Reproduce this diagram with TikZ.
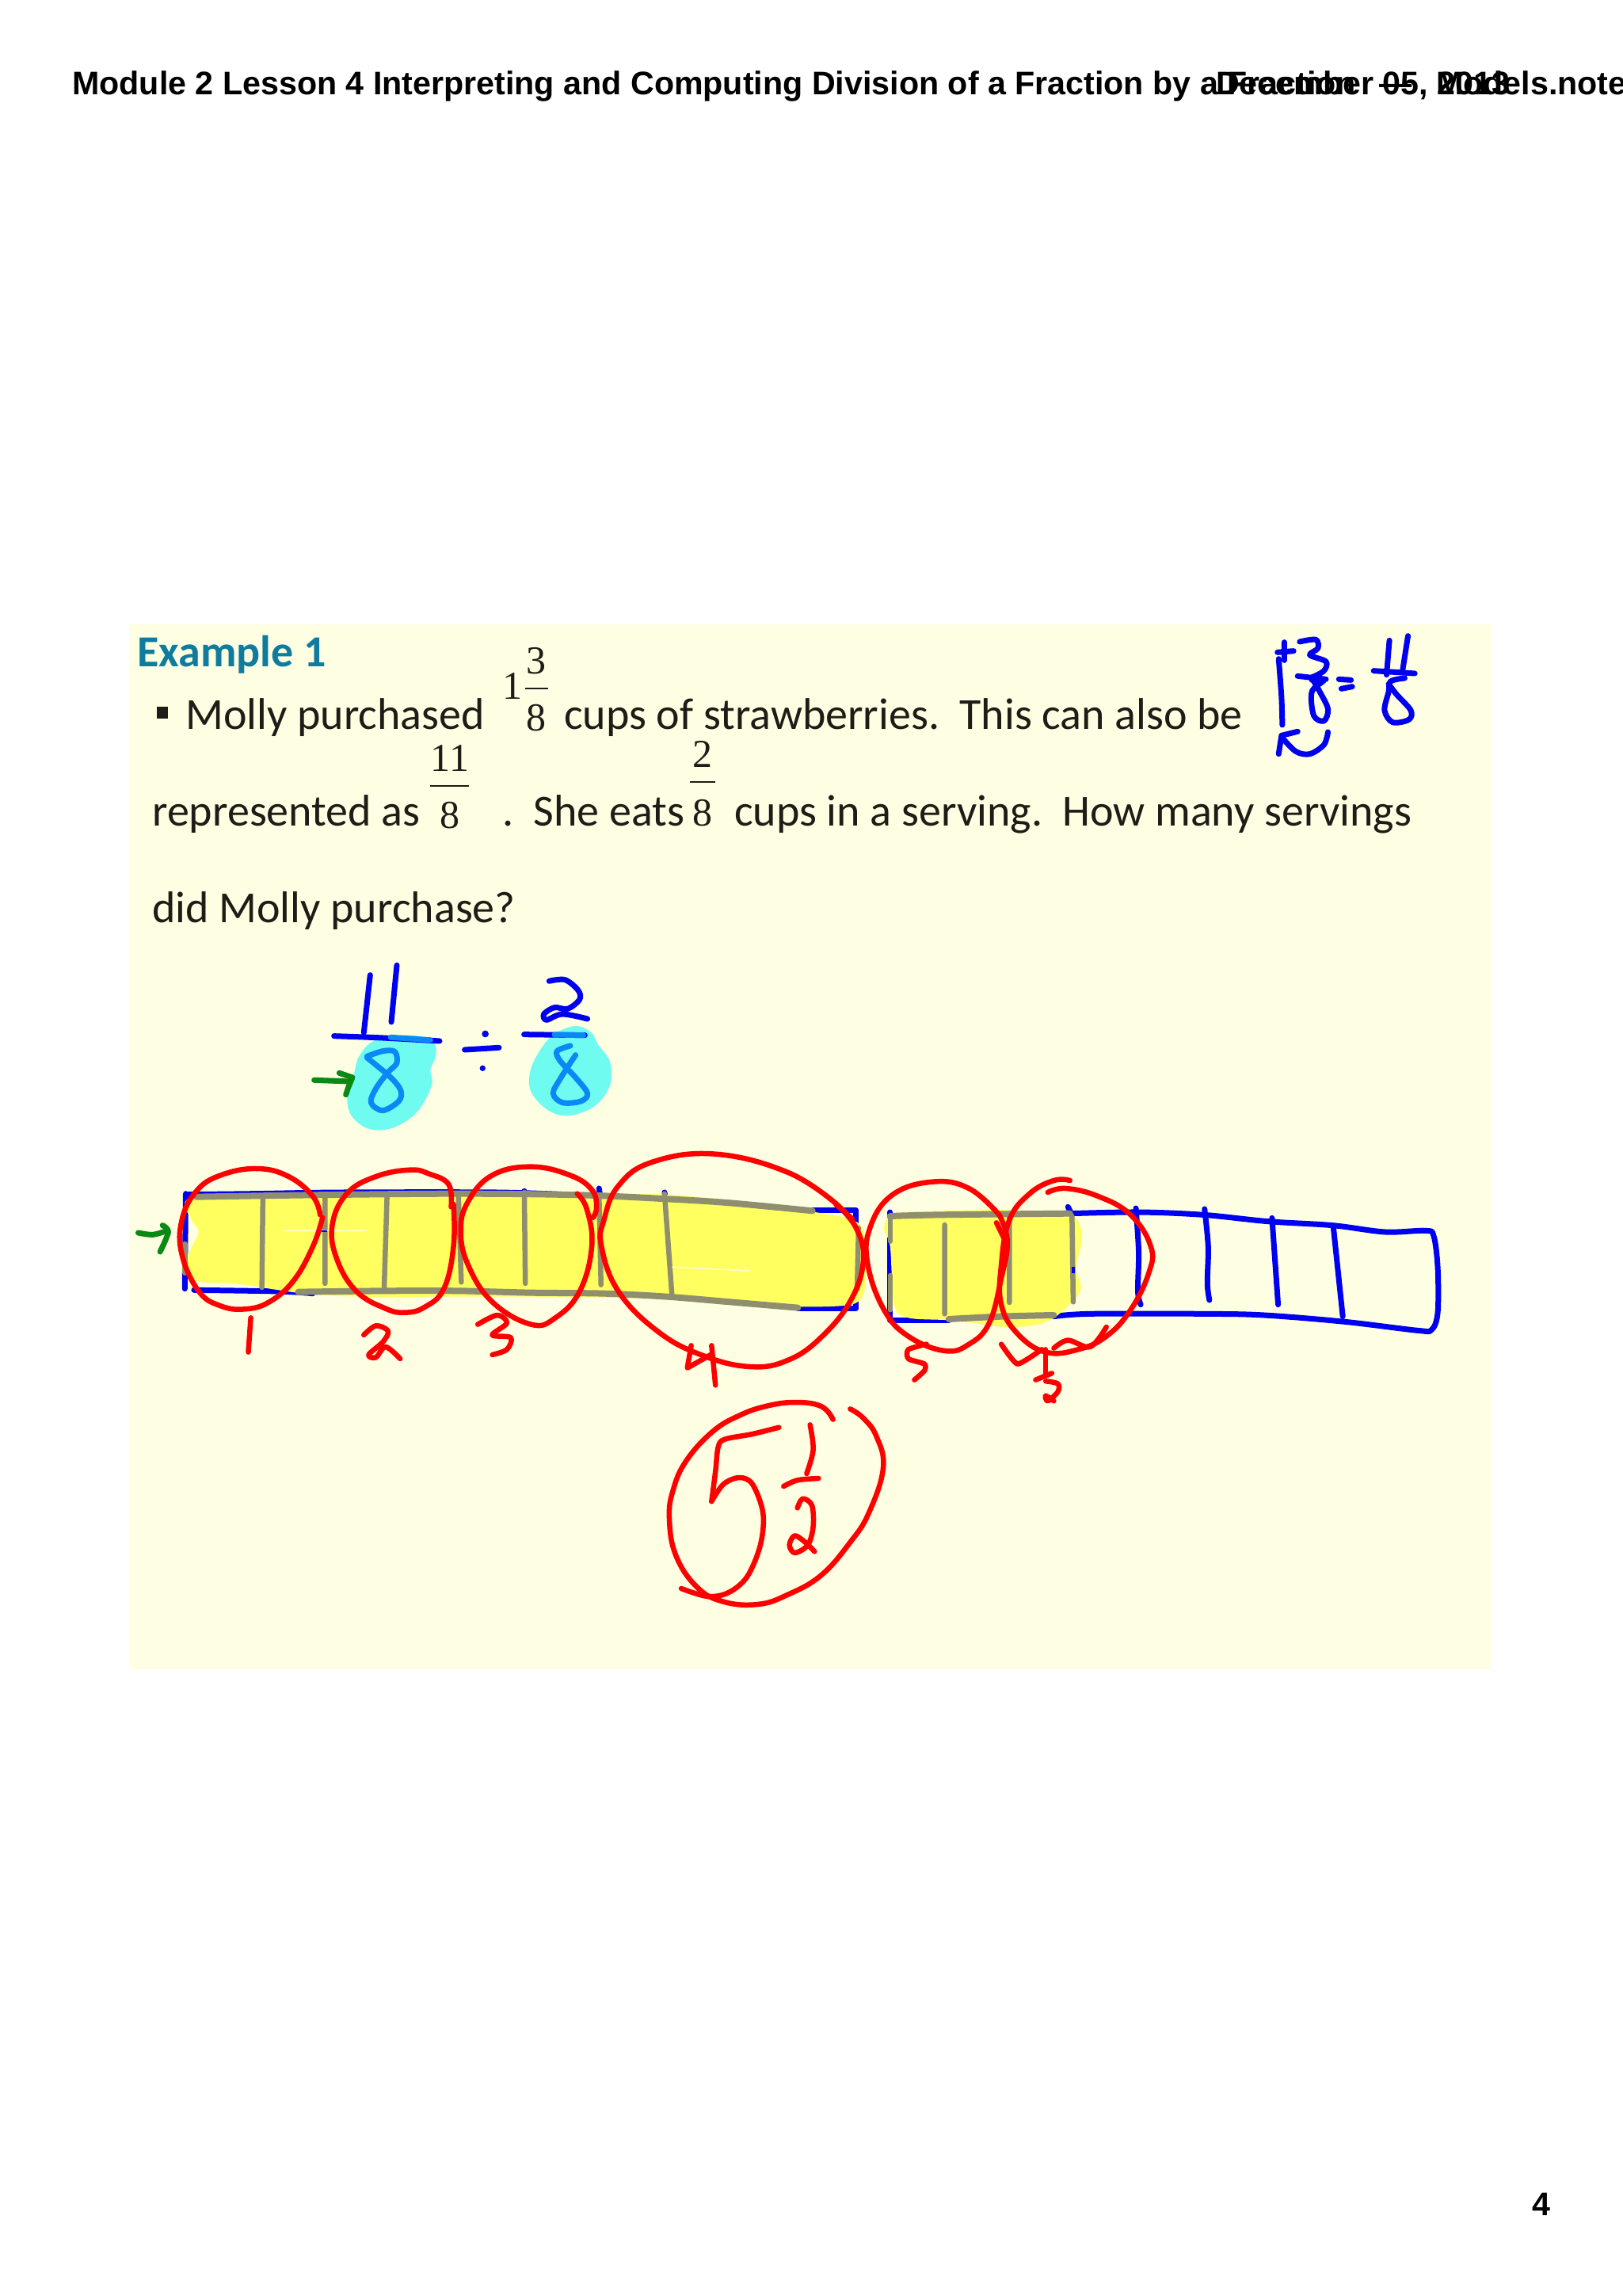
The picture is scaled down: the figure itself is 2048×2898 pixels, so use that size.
\documentclass[tikz,border=0pt]{standalone}
\usepackage{fontspec}
\setmainfont{Carlito}
\newfontfamily\titlefont{Liberation Sans}
\newfontfamily\mathsfont{Liberation Serif}
\definecolor{panel}{HTML}{FEFEE3}
\definecolor{heading}{HTML}{0F7C9E}
\definecolor{bodyink}{HTML}{1E1C16}
\definecolor{penblue}{HTML}{0000F0}
\definecolor{penred}{HTML}{FF0000}
\definecolor{pengreen}{HTML}{0A8A12}
\definecolor{hlyellow}{HTML}{FFFF60}
\definecolor{hlgray}{HTML}{8F8F70}
\definecolor{hlcyan}{HTML}{70FBF0}
\definecolor{hlblue}{HTML}{0A88F6}
\tikzset{
  titletext/.style={anchor=base west,inner sep=0pt,font=\titlefont\bfseries\fontsize{41.2}{41.2}\selectfont,text=black},
  bodytext/.style={anchor=base west,inner sep=0pt,font=\fontsize{56}{56}\selectfont,text=bodyink},
  numtext/.style={anchor=base,inner sep=0pt,font=\mathsfont\fontsize{50}{50}\selectfont,text=bodyink},
  ink/.style={line cap=round,line join=round,line width=#1},
  ink/.default=6pt,
  blueink/.style={ink=7pt,draw=penblue},
  grayink/.style={ink=6.5pt,draw=hlgray},
  grayband/.style={ink=8pt,draw=hlgray},
  redink/.style={ink=6.5pt,draw=penred},
  greenink/.style={ink=7pt,draw=pengreen},
  cyanink/.style={ink=7pt,draw=hlblue},
  smoothpath/.style={smooth,tension=.55},
  roundpath/.style={smooth,tension=.7},
  zthree/.style={shift={(1100,780)},xscale=.5102,yscale=.3333},
  zfour/.style={shift={(350,1190)},xscale=.3333,yscale=.3333},
  zfive/.style={shift={(150,1440)},xscale=.6124,yscale=.3333},
  zsix/.style={shift={(1060,1440)},xscale=.5102,yscale=.3333},
  zseven/.style={shift={(800,1740)},xscale=.3333,yscale=.3333},
}
\begin{document}
\begin{tikzpicture}[x=1pt,y=-1pt]
\useasboundingbox (0,0) rectangle (2048,2898);
\fill[white] (0,0) rectangle (2048,2898);
\fill[panel] (163,788) rectangle (1883,2107);

\node[titletext] (title) at (91,120) {Module 2 Lesson 4 Interpreting and Computing Division of a Fraction by a Fraction\hskip 30pt—\hskip 30pt Models.notebook};
\node[titletext] (date) at (1535,120) {December 05, 2013};
\node[titletext] (page) at (1934,2796) {4};

\node[anchor=base west,inner sep=0pt,font=\bfseries\fontsize{56}{56}\selectfont,text=heading] (example) at (173,841) {Example 1};
\fill[bodyink] (198,892) rectangle (212,907);
\node[bodytext] (l1a) at (234,920) {Molly purchased};
\node[numtext] (n1) at (647,882) {1};
\node[numtext] (n3) at (677,850) {3};
\draw[bodyink,line width=2pt] (663,869) -- (692,869);
\node[numtext] (n8a) at (677,922) {8};
\node[bodytext] (l1b) at (712,920) {cups of strawberries.\ \ This can also be};
\node[bodytext] (l2a) at (192,1042) {represented as};
\node[numtext] (n11) at (568,973) {11};
\draw[bodyink,line width=2pt] (543,992) -- (592,992);
\node[numtext] (n8b) at (568,1045) {8};
\node[bodytext] (l2b) at (634,1042) {.\ \ She eats};
\node[numtext] (n2) at (887,968) {2};
\draw[bodyink,line width=2pt] (871,987) -- (903,987);
\node[numtext] (n8c) at (887,1042) {8};
\node[bodytext] (l2c) at (927,1042) {cups in a serving.\ \ How many servings};
\node[bodytext] (l3) at (192,1164) {did Molly purchase?};

% top-right working
\begin{scope}[zthree]
\draw[blueink] plot[smoothpath] coordinates {(1008,155)(1015,300)(1017,405)};
\draw[blueink] (1005,130) -- (1045,125) (1022,92) -- (1022,160);
\draw[blueink] plot[smoothpath] coordinates {(1060,90)(1100,82)(1105,115)(1085,140)(1125,165)(1120,200)(1090,225)};
\draw[blueink] (1055,220) -- (1125,232);
\draw[blueink] plot[smoothpath] coordinates {(1090,235)(1120,235)(1090,280)(1095,370)(1120,390)(1130,345)(1110,280)(1095,240)};
\draw[blueink] (1157,232) -- (1187,235) (1163,268) -- (1190,260);
\draw[blueink] (1282,85) -- (1275,215) (1328,68) -- (1315,195) (1243,200) -- (1345,210);
\draw[blueink] plot[smoothpath] coordinates {(1320,228)(1285,240)(1280,280)(1270,350)(1290,395)(1330,385)(1335,350)(1300,290)(1280,250)};
\draw[blueink] plot[smoothpath] coordinates {(1130,432)(1120,480)(1085,515)(1050,505)(1015,450)};
\draw[blueink] (1055,430) -- (1015,445) -- (1008,515);
\end{scope}

% division sum
\begin{scope}[zfour]
\fill[hlcyan] plot[smooth cycle,tension=.6] coordinates {(370,370)(500,350)(590,375)(600,430)(580,480)(585,540)(530,640)(440,700)(350,705)(285,660)(265,590)(290,500)(310,430)};
\fill[hlcyan] plot[smooth cycle,tension=.6] coordinates {(1050,345)(1130,315)(1190,340)(1215,385)(1260,450)(1260,540)(1200,620)(1100,655)(1020,630)(960,560)(960,480)(1000,400)};
\draw[blueink] (352,122) -- (328,340) (453,85) -- (432,300);
\draw[blueink] plot[smoothpath] coordinates {(215,353)(400,360)(615,372)};
\draw[blueink] (710,405) -- (840,397);
\draw[blueink] (935,347) -- (1165,350);
\fill[penblue] (788,345) circle[radius=13] (778,475) circle[radius=11];
\draw[blueink] plot[smoothpath] coordinates {(1030,145)(1090,140)(1140,180)(1145,215)(1100,250)(1050,245)(1010,270)(1020,292)(1080,270)(1175,288)};
\draw[hlblue,line width=7pt,line cap=round] (430,358) -- (580,368) (1050,348) -- (1160,350);
\draw[cyanink] plot[smoothpath] coordinates {(340,430)(400,410)(445,412)(453,455)(420,490)(375,550)(355,605)(400,635)(460,600)(468,560)(430,510)(340,435)};
\draw[cyanink] plot[smoothpath] coordinates {(1110,390)(1060,410)(1070,445)(1130,510)(1175,570)(1150,600)(1080,605)(1045,570)(1075,510)(1130,425)};
\draw[greenink] (140,520) -- (275,525);
\draw[greenink] (235,493) -- (285,510) -- (270,545) -- (260,575);
\end{scope}

% first bar
\begin{scope}[zfive]
\draw[blueink] (138,200) -- (136,560);
\draw[blueink] plot[smoothpath] coordinates {(140,203)(280,200)(460,195)(780,195)(940,205)};
\draw[blueink] plot[smoothpath] coordinates {(155,565)(330,570)(400,578)};
\draw[blueink] (1400,635) -- (1520,635) -- (1520,262) -- (1430,262);
\draw[blueink] (990,180) -- (992,205) (836,190) -- (836,200) (1125,195) -- (1126,205);
\fill[hlyellow] plot[smooth cycle,tension=.45] coordinates {(150,215)(400,207)(700,197)(1000,200)(1150,205)(1300,235)(1430,268)(1530,320)(1540,520)(1510,620)(1300,625)(1130,600)(850,590)(500,590)(380,578)(240,540)(160,530)(140,450)(165,345)(150,300)};
\draw[grayink] (136,390) -- (136,500);
\draw[grayband] plot[smoothpath] coordinates {(160,212)(400,205)(700,200)(950,205)(1130,220)(1260,235)(1430,265)};
\draw[grayband] plot[smoothpath] coordinates {(370,572)(550,568)(700,568)(850,575)(1000,578)(1130,590)(1260,610)(1400,632)};
\draw[grayink] (297,210) -- (295,555) (425,205) -- (425,540) (553,205) -- (547,560) (700,205) -- (706,535) (836,195) -- (838,540) (990,205) -- (994,545) (1125,200) -- (1140,578) (1525,330) -- (1522,560);
\draw[white,line width=1.5pt,opacity=.8] (340,340) -- (510,340) (1140,478) -- (1300,492);
\draw[penblue,line width=2pt] (418,343) -- (430,343);
% circles
\draw[redink] plot[roundpath] coordinates {(415,280)(400,210)(350,135)(285,105)(210,130)(160,190)(130,300)(130,430)(165,570)(210,625)(260,637)(310,610)(360,530)(400,400)(420,290)};
\draw[redink] plot[roundpath] coordinates {(685,250)(680,165)(640,125)(600,110)(530,135)(470,200)(440,320)(450,450)(490,570)(550,635)(590,650)(630,630)(670,560)(690,400)(690,240)};
\draw[redink] plot[roundpath] coordinates {(978,290)(985,250)(975,185)(930,130)(850,98)(770,130)(720,230)(705,340)(720,470)(770,610)(850,695)(900,670)(950,570)(975,400)(965,260)(945,200)};
\draw[redink] plot[roundpath] coordinates {(1480,240)(1380,120)(1230,50)(1100,80)(1030,170)(1000,300)(995,400)(1030,570)(1110,720)(1200,810)(1300,855)(1380,830)(1450,740)(1510,600)(1535,450)(1520,330)(1480,240)};
\draw[redink] (1478,240) -- (1512,295);
\draw[redink] (272,670) -- (267,800);
\draw[redink] plot[smoothpath] coordinates {(505,735)(530,700)(555,720)(545,760)(515,810)(530,820)(550,780)(580,825)};
\draw[redink] plot[smoothpath] coordinates {(740,695)(780,660)(800,690)(770,735)(808,745)(800,790)(770,810)};
\draw[redink] (1180,775) -- (1172,860) -- (1220,810) (1222,775) -- (1230,925);
\draw[greenink] plot[smoothpath] coordinates {(40,348)(70,355)(100,340)};
\draw[greenink] plot[smoothpath] coordinates {(90,320)(102,345)(85,420)};
\end{scope}

% second bar
\begin{scope}[zsix]
\draw[blueink] (125,270) -- (125,680) -- (270,680);
\draw[blueink] plot[smoothpath] coordinates {(570,275)(740,270)(900,280)(1060,305)(1220,320)(1350,345)(1450,340)(1470,360)(1480,480)(1480,650)(1465,715)(1430,718)(1250,685)(1050,660)(900,655)(620,655)(530,665)};
\draw[blueink] (565,250) -- (575,280);
\draw[blueink] plot[smoothpath] coordinates {(733,255)(740,420)(738,570)(745,620)};
\draw[blueink] plot[smoothpath] coordinates {(903,258)(912,400)(910,540)(915,603)};
\draw[blueink] (1070,292) -- (1085,620);
\draw[blueink] (1222,330) -- (1245,665);
\fill[hlyellow] plot[smooth cycle,tension=.5] coordinates {(110,330)(135,275)(260,265)(420,262)(570,280)(600,360)(585,480)(595,570)(520,680)(420,705)(280,680)(170,670)(135,620)(125,400)};
\draw[grayink] (125,285) -- (125,380) (125,510) -- (125,640);
\draw[grayband] plot[smoothpath] coordinates {(125,285)(250,280)(570,275)};
\draw[grayband] plot[smoothpath] coordinates {(270,675)(400,665)(530,660)};
\draw[grayink] (260,318) -- (260,655) (420,290) -- (420,612) (575,285) -- (578,610);
\draw[penblue,line width=4pt] (578,478) -- (578,500);
% circles
\draw[redink] (388,310) -- (412,385);
\draw[redink] plot[roundpath] coordinates {(395,280)(320,180)(230,155)(130,205)(75,330)(70,470)(110,640)(170,740)(260,795)(320,770)(370,690)(400,520)(415,380)(395,280)};
\draw[redink] plot[roundpath] coordinates {(570,150)(530,150)(470,200)(420,300)(400,470)(400,620)(440,730)(510,800)(590,790)(660,740)(720,640)(765,500)(770,400)(720,280)(640,210)(560,180)(515,195)};
\draw[redink] plot[smoothpath,tension=.3] coordinates {(400,770)(440,845)(500,790)};
\draw[redink] (510,790) -- (510,880);
\draw[redink] plot[smoothpath] coordinates {(530,785)(565,755)(620,780)(660,705)};
\draw[redink] (485,905) -- (525,880);
\draw[redink] plot[smoothpath] coordinates {(510,910)(540,920)(540,950)(515,985)(510,965)(530,985)};
\draw[redink] plot[smoothpath,tension=.4] coordinates {(215,770)(170,790)(170,825)(210,845)(210,870)(185,905)};
\end{scope}

% answer
\begin{scope}[zseven]
\draw[redink] plot[roundpath] coordinates {(755,155)(710,105)(610,90)(500,105)(400,140)(300,200)(200,310)(150,420)(135,530)(160,670)(240,790)(340,845)(470,855)(580,820)(710,745)(820,620)(890,510)(945,340)(920,220)(870,150)(820,115)};
\draw[redink] plot[smoothpath] coordinates {(550,185)(450,210)(345,230)(320,260)(310,350)(295,465)};
\draw[redink] plot[smoothpath] coordinates {(295,465)(340,400)(400,375)(450,400)(490,510)(480,630)(430,750)(360,810)(280,825)(180,795)};
\draw[redink] plot[smoothpath] coordinates {(668,175)(680,270)(655,360)};
\draw[redink] plot[smoothpath] coordinates {(568,408)(620,385)(700,378)};
\draw[redink] plot[smoothpath] coordinates {(620,490)(640,455)(675,480)(680,560)(660,630)(610,660)(590,630)(610,595)(650,620)(685,655)};
\end{scope}
\end{tikzpicture}
\end{document}
